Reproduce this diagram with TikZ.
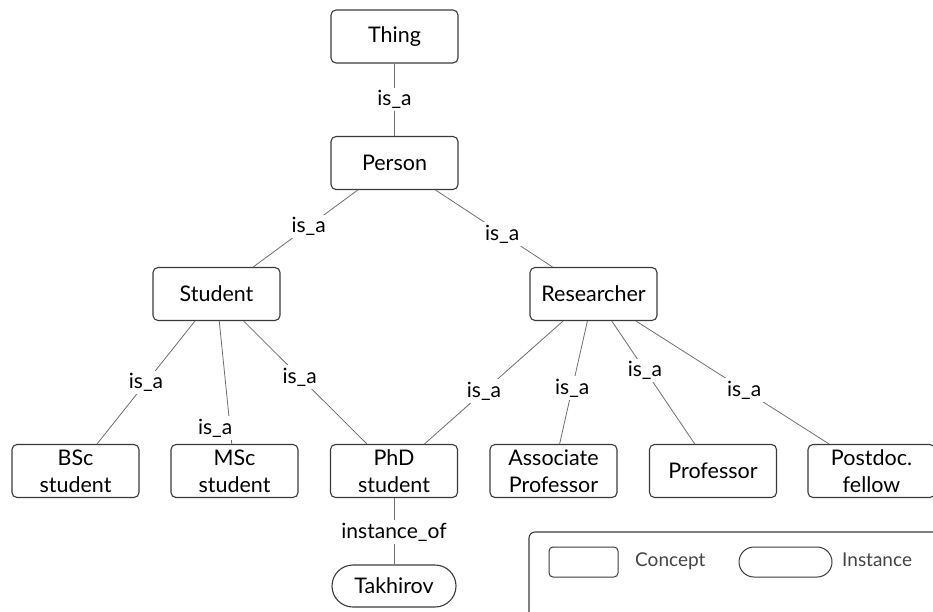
\documentclass[tikz,border=0pt]{standalone}
\usepackage{fontspec}
\setmainfont{Lato}
\usetikzlibrary{shapes.misc}
\definecolor{edgegray}{HTML}{6E6E6E}
\definecolor{boxline}{HTML}{3A3A3A}
\definecolor{keytext}{HTML}{444444}
\begin{document}
\begin{tikzpicture}[x=1pt,y=-1pt,
  concept/.style={draw=boxline, line width=1.1pt, rounded corners=5pt,
    minimum width=127pt, minimum height=53pt, align=center, inner sep=2pt,
    font=\fontsize{21.5}{27}\selectfont},
  instance/.style={draw=boxline, line width=1.1pt, rounded rectangle,
    minimum width=128pt, minimum height=42pt, inner sep=2pt,
    font=\fontsize{21.5}{27}\selectfont},
  link/.style={draw=edgegray, line width=0.8pt},
  rel/.style={fill=white, inner sep=2.5pt, font=\fontsize{21}{24}\selectfont},
  keybox/.style={draw=boxline, line width=1pt, minimum width=69pt, minimum height=30pt, inner sep=0pt},
  keytxt/.style={text=keytext, anchor=west, inner sep=0pt, font=\fontsize{19}{21}\selectfont}
]
\path[use as bounding box] (0,0) rectangle (933,612);

% concepts
\node[concept] (thing)      at (394.5,36.5) {Thing};
\node[concept] (person)     at (394.5,163)  {Person};
\node[concept] (student)    at (216.5,294)  {Student};
\node[concept] (researcher) at (593.5,294)  {Researcher};
\node[concept] (bsc)        at (75.5,471)   {BSc\\student};
\node[concept] (msc)        at (234.5,471)  {MSc\\student};
\node[concept] (phd)        at (394,471)    {PhD\\student};
\node[concept] (assoc)      at (553.5,471)  {Associate\\Professor};
\node[concept] (prof)       at (713,471)    {Professor};
\node[concept] (postdoc)    at (871.5,471)  {Postdoc.\\fellow};

% instance
\node[instance] (takhirov) at (394,586) {Takhirov};

% relations
\draw[link] (thing) -- node[rel, pos=0.5] {is\_a} (person);
\draw[link] (person) -- node[rel, pos=0.47] {is\_a} (student);
\draw[link] (person) -- node[rel, pos=0.57] {is\_a} (researcher);
\draw[link] (student) -- node[rel, pos=0.5] {is\_a} (bsc);
\draw[link] (student) -- node[rel, pos=0.87, xshift=-15pt] {is\_a} (msc);
\draw[link] (student) -- node[rel, pos=0.455] {is\_a} (phd);
\draw[link] (researcher) -- node[rel, pos=0.57] {is\_a} (phd);
\draw[link] (researcher) -- node[rel, pos=0.545] {is\_a} (assoc);
\draw[link] (researcher) -- node[rel, pos=0.40] {is\_a} (prof);
\draw[link] (researcher) -- node[rel, pos=0.56] {is\_a} (postdoc);
\draw[link] (phd) -- node[rel, pos=0.51] {instance\_of} (takhirov);

% key
\draw[draw=boxline, line width=1.1pt, rounded corners=6pt] (529,532) rectangle (960,650);
\node[keybox, rounded corners=4pt] (keyconcept) at (583.5,562) {};
\node[keytxt] (keyconcepttext) at (635,561) {Concept};
\node[keybox, rounded rectangle, minimum width=93pt] (keyinstance) at (785.5,562) {};
\node[keytxt] (keyinstancetext) at (842,560) {Instance};
\end{tikzpicture}
\end{document}
